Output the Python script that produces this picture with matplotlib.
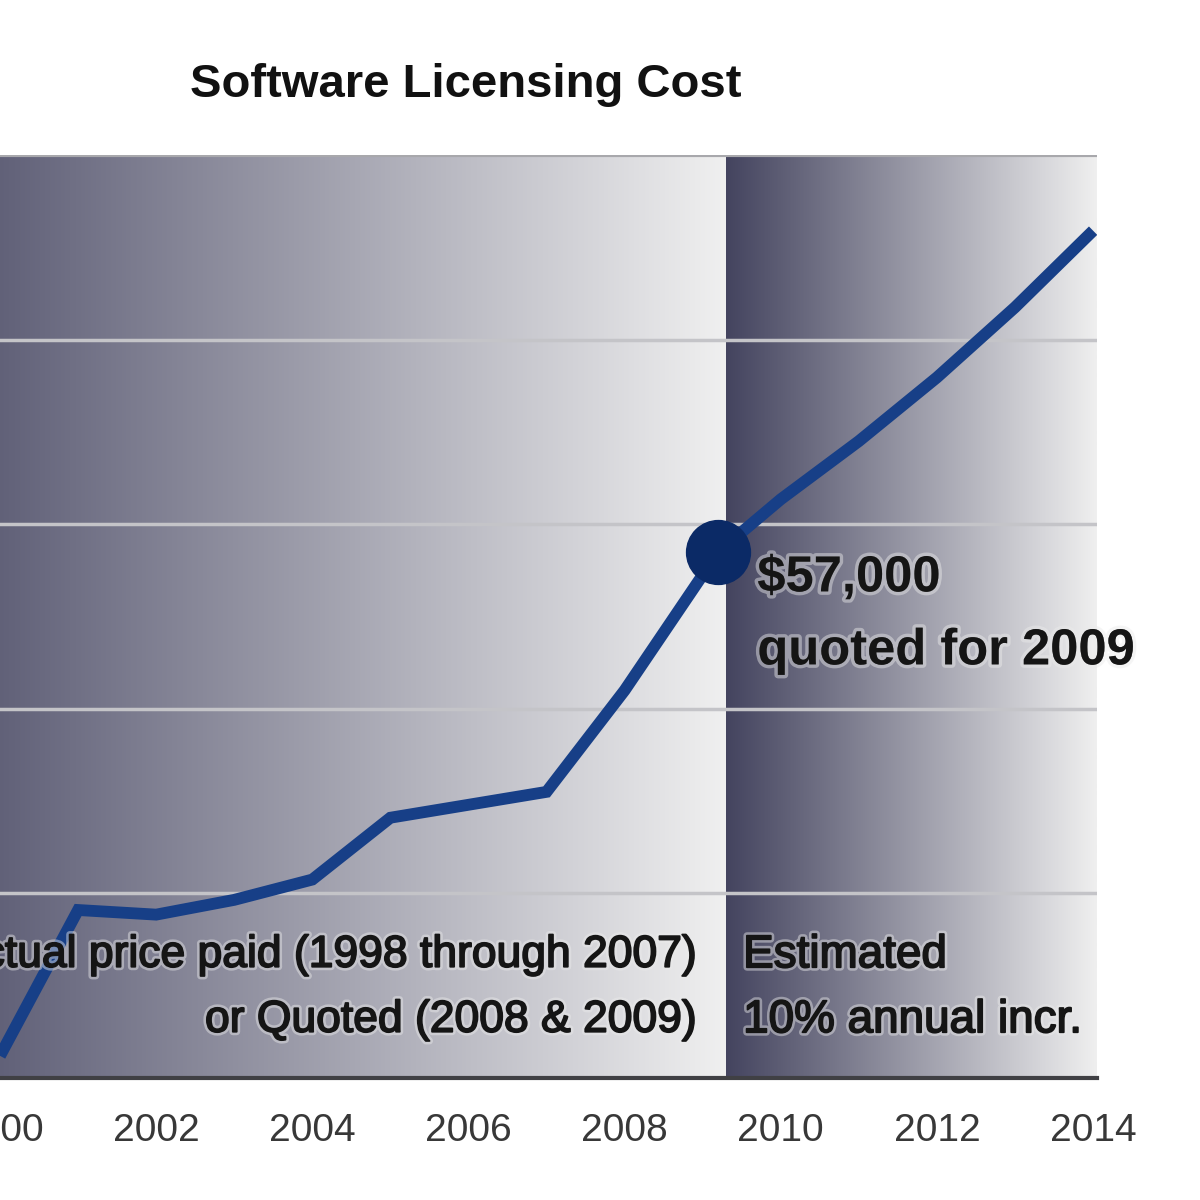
import numpy as np
import matplotlib
matplotlib.use("Agg")
import matplotlib.pyplot as plt
import matplotlib.patheffects as pe
from matplotlib.colors import LinearSegmentedColormap

plt.rcParams["font.family"] = ["Liberation Sans", "DejaVu Sans"]

# ── Datos ────────────────────────────────────────────────────────────────
years = [2000, 2001, 2002, 2003, 2004, 2005, 2006, 2007, 2008, 2009.2,
         2010, 2011, 2012, 2013, 2014]
cost = [2400, 18200, 17700, 19300, 21500, 28200, 29600, 31000, 42000, 57000,
        62700, 69000, 75900, 83500, 91800]
quote_year, quote_cost = 2009.2, 57000
estimate_start = 2009.3
grid_values = [20000, 40000, 60000, 80000]
tick_years = [2000, 2002, 2004, 2006, 2008, 2010, 2012, 2014]

title = "Software Licensing Cost"
actual_lines = ["Actual price paid (1998 through 2007)", "or Quoted (2008 & 2009)"]
estimate_lines = ["Estimated", "10% annual incr."]
quote_lines = ["$57,000", "quoted for 2009"]

X0, X1 = 2000.08, 2014.05
Y0, Y1 = 0, 100000

fig = plt.figure(figsize=(12, 12), dpi=100)
ax = fig.add_axes([0.0, 122 / 1200, 1097 / 1200, 923 / 1200])

# Fondos degradados (el izquierdo empieza fuera del lienzo)
grad = np.linspace(0, 1, 256).reshape(1, -1)
cmap_left = LinearSegmentedColormap.from_list("l", ["#5e5e76", "#f0f0f0"])
cmap_right = LinearSegmentedColormap.from_list("r", ["#44445f", "#efefef"])
ax.imshow(grad, cmap=cmap_left, aspect="auto", zorder=0,
          extent=[X0 - 0.3, estimate_start, Y0, Y1])
ax.imshow(grad, cmap=cmap_right, aspect="auto", zorder=0,
          extent=[estimate_start, X1, Y0, Y1])
ax.set_xlim(X0, X1)
ax.set_ylim(Y0, Y1)

for g in grid_values:
    ax.axhline(g, color="#c4c4c8", lw=2.5, zorder=1)
ax.axhline(Y1, color="#a8a8ac", lw=3, zorder=1)

# Línea y punto
ax.plot(years, cost, color="#173f87", lw=8.5, solid_capstyle="butt",
        solid_joinstyle="miter", zorder=3)
ax.plot([quote_year], [quote_cost], "o", color="#0b2a66", ms=46, zorder=4)

# Ejes
for s in ["top", "right", "left"]:
    ax.spines[s].set_visible(False)
ax.spines["bottom"].set_color("#404044")
ax.spines["bottom"].set_linewidth(3)
ax.spines["bottom"].set_zorder(5)
ax.set_yticks([])
ax.set_xticks(tick_years)
ax.set_xticklabels([str(y) for y in tick_years])
ax.tick_params(axis="x", length=0, pad=25, labelsize=28, labelcolor="#383838")

halo = [pe.withStroke(linewidth=5, foreground=(0.92, 0.92, 0.92, 0.45)),
        pe.withStroke(linewidth=1.3, foreground="#151515")]
txt = dict(color="#151515", fontsize=33, path_effects=halo, zorder=6,
           textcoords="offset pixels", va="center")

# Textos inferiores
for i, line in enumerate(actual_lines):
    ax.annotate(line, (estimate_start, 13300), xytext=(-29, -65 * i),
                ha="right", **{**txt, "fontsize": 32})
for i, line in enumerate(estimate_lines):
    ax.annotate(line, (estimate_start, 13300), xytext=(17, -65 * i),
                ha="left", **txt)

# Texto de la cotización
for i, line in enumerate(quote_lines):
    ax.annotate(line, (quote_year, quote_cost), xytext=(39, -26 - 73 * i),
                ha="left", fontweight="bold",
                **{**txt, "fontsize": 36.5,
                   "path_effects": [halo[0]]})

fig.text(466 / 1200, 1 - 85 / 1200, title, ha="center", va="center",
         fontsize=34, fontweight="bold", color="#111111")

fig.savefig("out.png", dpi=100)
